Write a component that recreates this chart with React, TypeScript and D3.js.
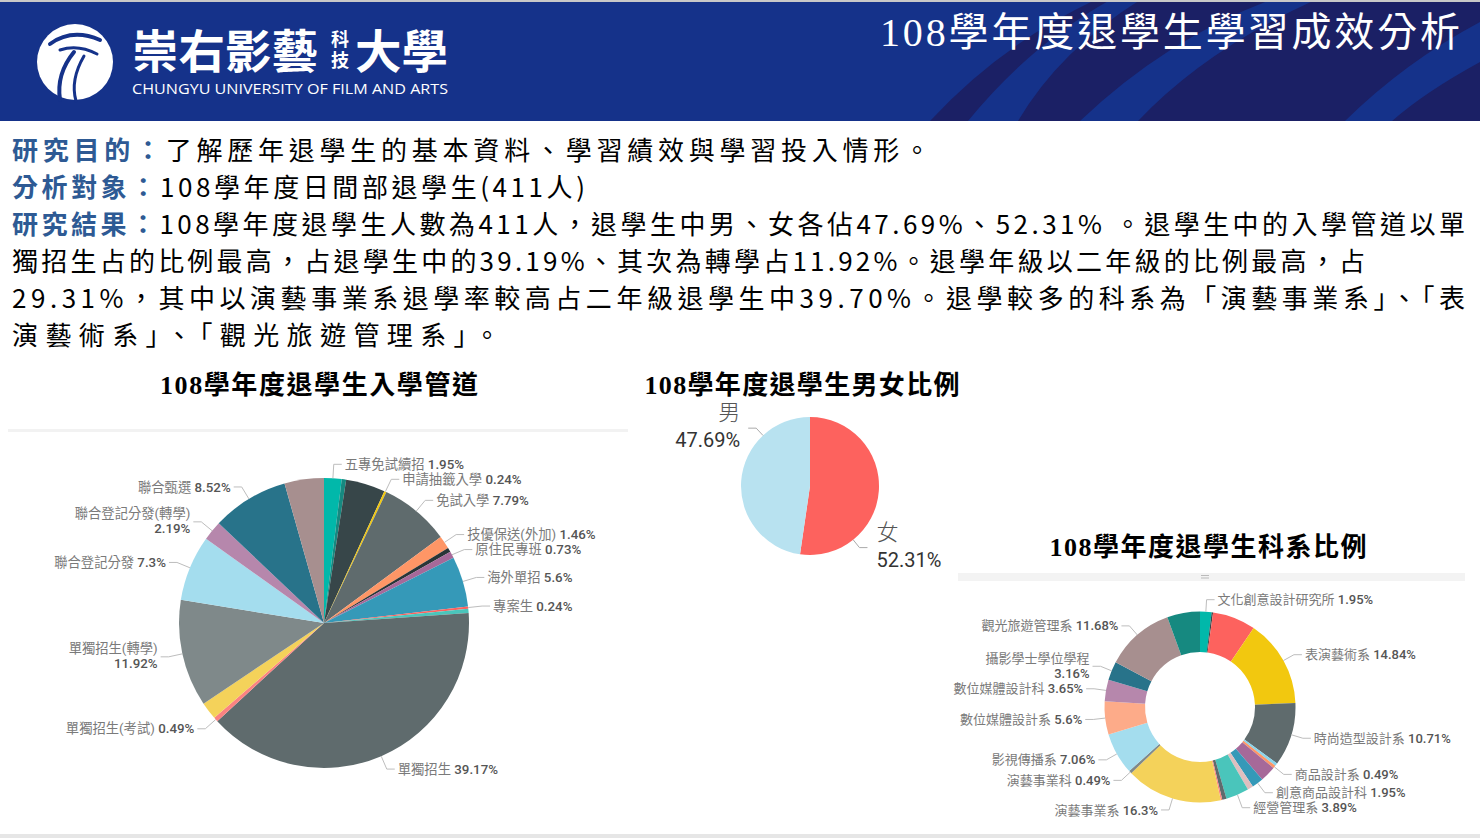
import React from 'react';
import * as d3 from 'd3';

// 入學管道 (clockwise from 12 o'clock, null = label hidden in the original)
const admissionNames = ['五專免試續招', null, null, '申請抽籤入學', '免試入學', '技優保送(外加)', null, '原住民專班', '海外單招', '專案生', null, '單獨招生', '單獨招生(考試)', null, '單獨招生(轉學)', '聯合登記分發', '聯合登記分發(轉學)', '聯合甄選', null];
const admissionValues = [1.95, 0.49, 4.38, 0.24, 7.79, 1.46, 0.49, 0.73, 5.6, 0.24, 0.49, 39.17, 0.49, 1.95, 11.92, 7.3, 2.19, 8.52, 4.38];
const admissionColors = ['#01B8AA', '#168980', '#374649', '#F2C80F', '#5F6B6D', '#FE9666', '#293537', '#A66999', '#3599B8', '#FD625E', '#4AC5BB', '#5F6B6D', '#FB8281', '#F4D25A', '#7F898A', '#A4DDEE', '#B687AC', '#28738A', '#A78F8F'];

// 男女比例
const genderNames = ['女', '男'];
const genderValues = [52.31, 47.69];
const genderColors = ['#FD625E', '#B8E2F0'];

// 科系比例
const deptNames = ['文化創意設計研究所', null, null, '表演藝術系', '時尚造型設計系', null, '商品設計系', null, '創意商品設計科', null, '經營管理系', null, null, '演藝事業系', '演藝事業科', '影視傳播系', '數位媒體設計系', '數位媒體設計科', '攝影學士學位學程', '觀光旅遊管理系', null];
const deptValues = [1.95, 0.24, 7.3, 14.84, 10.71, 0.49, 0.49, 2.68, 1.95, 0.97, 3.89, 0.73, 0.24, 16.3, 0.49, 7.06, 5.6, 3.65, 3.16, 11.68, 5.55];
const deptColors = ['#01B8AA', '#374649', '#FD625E', '#F2C80F', '#5F6B6D', '#8AD4EB', '#FE9666', '#A66999', '#3599B8', '#DFBFBF', '#4AC5BB', '#5F6B6D', '#FB8281', '#F4D25A', '#7F898A', '#A4DDEE', '#FDAB89', '#B687AC', '#28738A', '#A78F8F', '#168980'];

const wrappedLabels = ['聯合登記分發(轉學)', '單獨招生(轉學)', '攝影學士學位學程'];

const paragraphLabels = ['研究目的：', '分析對象：', '研究結果：', '', '', ''];
const paragraphLines = [
  '了解歷年退學生的基本資料、學習績效與學習投入情形。',
  '108學年度日間部退學生(411人)',
  '108學年度退學生人數為411人，退學生中男、女各佔47.69%、52.31% 。退學生中的入學管道以單',
  '獨招生占的比例最高，占退學生中的39.19%、其次為轉學占11.92%。退學年級以二年級的比例最高，占',
  '29.31%，其中以演藝事業系退學率較高占二年級退學生中39.70%。退學較多的科系為「演藝事業系」、「表',
  '演藝術系」、「觀光旅遊管理系」。',
];
const paragraphWidths = [918, 573, 1453, 1353, 1453, 488];

const CJK = "'Noto Sans CJK TC', sans-serif";
const TITLE_FONT = "'Liberation Serif', 'Noto Sans CJK TC', serif";
const LABEL_FONT = "Roboto, 'Noto Sans CJK TC', sans-serif";

const pct = (v: number) => `${v}%`;

type Lbl = { name: string; value: number; side: number; p1: number[]; x: number; y: number; h: number; wrap: boolean };

function PieChart({ names, values, colors, cx, cy, r, inner = 0, gap, fontSize = 12 }: any) {
  const pie = d3.pie<number>().sort(null).value(d => d);
  const arcs = pie(values);
  const arc = d3.arc<d3.PieArcDatum<number>>().innerRadius(inner).outerRadius(r);

  const labels: Lbl[] = [];
  arcs.forEach((a, i) => {
    if (!names[i]) return;
    const mid = (a.startAngle + a.endAngle) / 2;
    const s = Math.sin(mid), c = Math.cos(mid);
    const wrap = wrappedLabels.includes(names[i]);
    labels.push({
      name: names[i], value: values[i], side: s >= 0 ? 1 : -1,
      p1: [cx + r * s, cy - r * c],
      x: cx + (r + gap) * s, y: cy - (r + gap) * c,
      h: wrap ? 30 : 15, wrap,
    });
  });
  // push overlapping labels apart on each side
  [1, -1].forEach(side => {
    const list = labels.filter(l => l.side === side).sort((a, b) => a.y - b.y);
    for (let i = 1; i < list.length; i++) {
      const minY = list[i - 1].y + (list[i - 1].h + list[i].h) / 2;
      if (list[i].y < minY) list[i].y = minY;
    }
  });

  return (
    <g>
      {arcs.map((a, i) => (
        <path key={i} d={arc(a) || ''} transform={`translate(${cx},${cy})`} fill={colors[i]} />
      ))}
      {labels.map((l, i) => {
        const x3 = l.x + 8 * l.side;
        const tx = x3 + 3 * l.side;
        const anchor = l.side > 0 ? 'start' : 'end';
        return (
          <g key={'l' + i} fontFamily={LABEL_FONT} fontSize={fontSize}>
            <polyline points={`${l.p1[0]},${l.p1[1]} ${l.x},${l.y} ${x3},${l.y}`} fill="none" stroke="#bdbdbd" strokeWidth={1} />
            {l.wrap ? (
              <text x={tx} y={l.y} textAnchor={anchor}>
                <tspan x={tx} dy={-3.5} fill="#7a7a7a">{l.name}</tspan>
                <tspan x={tx} dy={15} fill="#555" fontWeight={500}>{pct(l.value)}</tspan>
              </text>
            ) : (
              <text x={tx} y={l.y} dy="0.35em" textAnchor={anchor}>
                <tspan fill="#7a7a7a">{l.name} </tspan>
                <tspan fill="#555" fontWeight={500}>{pct(l.value)}</tspan>
              </text>
            )}
          </g>
        );
      })}
    </g>
  );
}

function GenderPie({ cx, cy, r }: any) {
  const arcs = d3.pie<number>().sort(null).value(d => d)(genderValues);
  const arc = d3.arc<d3.PieArcDatum<number>>().innerRadius(0).outerRadius(r);
  return (
    <g>
      {arcs.map((a, i) => (
        <path key={i} d={arc(a) || ''} transform={`translate(${cx},${cy})`} fill={genderColors[i]} />
      ))}
      {arcs.map((a, i) => {
        const ang = a.startAngle + 0.75 * (a.endAngle - a.startAngle);
        const s = Math.sin(ang), c = Math.cos(ang);
        const side = s >= 0 ? 1 : -1;
        const p1 = [cx + r * s, cy - r * c];
        const p2 = [cx + (r + 10) * s, cy - (r + 10) * c];
        const x3 = p2[0] + 8 * side;
        const tx = x3 + (side > 0 ? 9 : -8);
        const anchor = side > 0 ? 'start' : 'end';
        return (
          <g key={'g' + i} fontFamily={LABEL_FONT}>
            <polyline points={`${p1[0]},${p1[1]} ${p2[0]},${p2[1]} ${x3},${p2[1]}`} fill="none" stroke="#aaa" strokeWidth={1} />
            <text x={tx} y={p2[1]} textAnchor={anchor}>
              <tspan x={tx} dy={-8} fontSize={22} fill="#555" fontWeight={300}>{genderNames[i]}</tspan>
              <tspan x={tx} dy={27} fontSize={20} fill="#333">{pct(genderValues[i])}</tspan>
            </text>
          </g>
        );
      })}
    </g>
  );
}

function Header() {
  return (
    <g>
      <rect x={0} y={0} width={1480} height={121} fill="#15328A" />
      <path d="M 930 121 Q 1000 45 1095 0 L 1480 0 L 1480 121 Z" fill="#1B2065" />
      <path d="M 968 121 Q 1030 45 1110 0 L 1140 0 Q 1060 50 1018 121 Z" fill="#15328A" />
      <path d="M 1080 121 Q 1165 40 1270 0 L 1315 0 Q 1205 50 1138 121 Z" fill="#15328A" />
      <path d="M 1345 121 Q 1405 62 1480 22 L 1480 62 Q 1425 92 1392 121 Z" fill="#15328A" />
      <rect x={0} y={0} width={1480} height={2} fill="#c8c8c8" />
      {/* logo */}
      <circle cx={75} cy={62} r={38} fill="#fff" />
      <g fill="none" stroke="#15328A" strokeLinecap="round">
        <path d="M 50 44 Q 72 28 100 40" strokeWidth={4} />
        <path d="M 60 50 Q 78 44 97 54" strokeWidth={3} />
        <path d="M 74 52 Q 56 74 60 100" strokeWidth={4} />
        <path d="M 84 56 Q 70 80 76 101" strokeWidth={3} />
      </g>
      <g fill="#fff" fontFamily={CJK}>
        <text x={132} y={68} fontSize={46} fontWeight={700} textLength={186} lengthAdjust="spacingAndGlyphs">崇右影藝</text>
        <text x={340} y={30} fontSize={18} fontWeight={700} writingMode="vertical-rl" letterSpacing={3}>科技</text>
        <text x={355} y={68} fontSize={46} fontWeight={700} textLength={93} lengthAdjust="spacingAndGlyphs">大學</text>
        <text x={132} y={94} fontSize={14} fontFamily="'Open Sans', sans-serif" textLength={316} lengthAdjust="spacingAndGlyphs">CHUNGYU UNIVERSITY OF FILM AND ARTS</text>
      </g>
      <text x={1460} y={46} textAnchor="end" fill="#fff" fontSize={40} fontFamily={TITLE_FONT} textLength={580} lengthAdjust="spacing">108學年度退學生學習成效分析</text>
    </g>
  );
}

export default function App() {
  return (
    <svg width={1480} height={838} style={{ position: 'absolute', left: 0, top: 0, background: '#fff' }}>
      <Header />

      {paragraphLines.map((line, i) => (
        <text key={i} x={12} y={160 + i * 37} fontFamily={CJK} fontSize={26} fill="#000"
          textLength={paragraphWidths[i]} lengthAdjust="spacing">
          {paragraphLabels[i] && <tspan fill="#2E5A94" fontWeight={700}>{paragraphLabels[i]}</tspan>}
          <tspan>{line}</tspan>
        </text>
      ))}

      {/* chart titles */}
      <g fontFamily={TITLE_FONT} fontWeight={700} fontSize={26} fill="#000" textAnchor="middle">
        <text x={319} y={394} textLength={318} lengthAdjust="spacing">108學年度退學生入學管道</text>
        <text x={802} y={394} textLength={315} lengthAdjust="spacing">108學年度退學生男女比例</text>
        <text x={1208} y={556} textLength={317} lengthAdjust="spacing">108學年度退學生科系比例</text>
      </g>

      <rect x={8} y={429} width={620} height={3} fill="#f2f2f2" />
      <rect x={958} y={573} width={507} height={8} fill="#f3f3f3" />
      <line x1={1201} x2={1209} y1={575.5} y2={575.5} stroke="#bbb" />
      <line x1={1201} x2={1209} y1={578} y2={578} stroke="#bbb" />

      <PieChart names={admissionNames} values={admissionValues} colors={admissionColors} cx={324} cy={623} r={145} gap={14} fontSize={13.3} />
      <GenderPie cx={810} cy={486} r={69} />
      <PieChart names={deptNames} values={deptValues} colors={deptColors} cx={1200} cy={707} r={95.5} inner={55} gap={12} fontSize={13} />

      <rect x={0} y={834} width={1480} height={4} fill="#e6e6e6" />
    </svg>
  );
}
